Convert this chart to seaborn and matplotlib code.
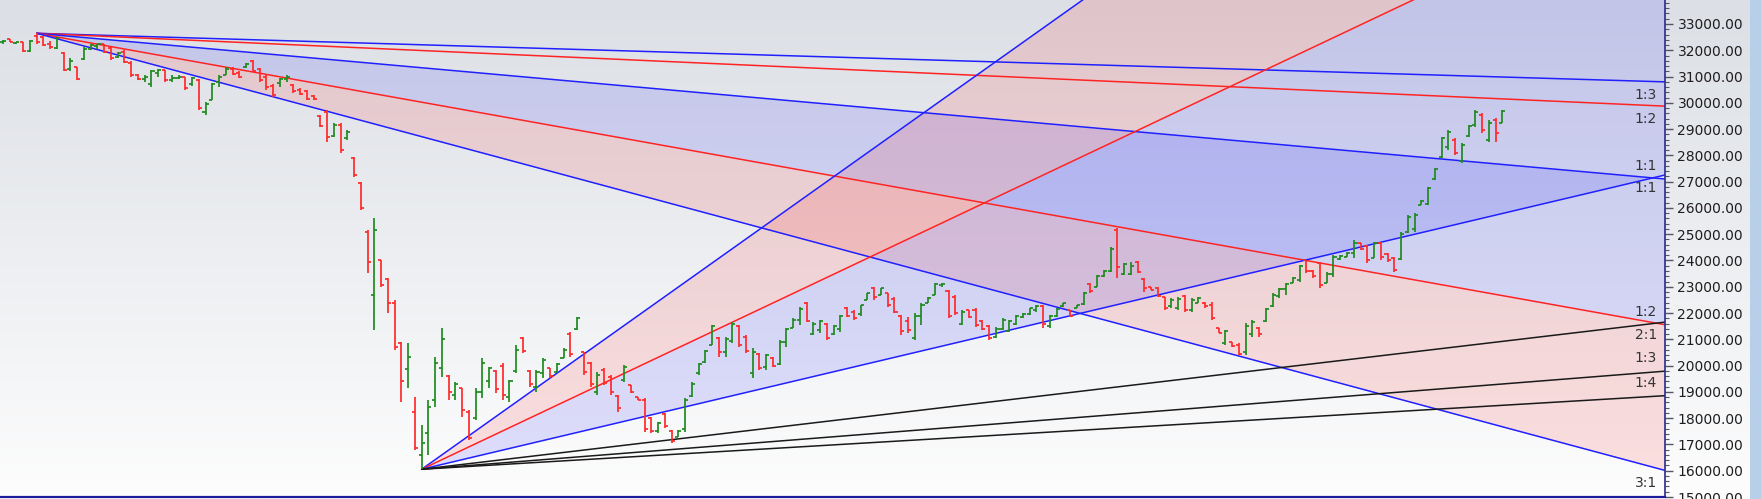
import numpy as np
import pandas as pd
import seaborn as sns
import matplotlib.pyplot as plt
from matplotlib.colors import LinearSegmentedColormap
from matplotlib.patches import Rectangle
from matplotlib.ticker import MultipleLocator, FormatStrFormatter

sns.set_theme(style='white')
plt.rcParams['font.family'] = ['DejaVu Sans']

# ------------------------------
# Daily OHLC bars
# ------------------------------
opens = [32300, 32420, 32280, 32300, 31980, 32560, 32500, 32250, 32100, 31900,
         31300, 31350, 31650, 32050, 32150, 32230, 32100, 31750, 31950, 31500,
         31060, 30900, 30700, 31150, 31250, 30850, 30950, 30980, 30700, 30850,
         29650, 30100, 30800, 31050, 31300, 31150, 31350, 31600, 31300, 31000,
         30650, 30750, 30900, 30680, 30500, 30450, 30250, 29500, 29650, 28750,
         29150, 28650, 27900, 26950, 25100, 22690, 24000, 23300, 22400, 20850,
         19870, 18240, 16600, 17440, 18700, 19900, 19600, 18900, 19150, 18250,
         18000, 19000, 19400, 19800, 20000, 18800, 19800, 21050, 19800, 19200,
         19700, 19900, 19750, 20300, 21200, 21400, 20500, 20100, 19000, 19850,
         19550, 18850, 19450, 19250, 18800, 18700, 18000, 17500, 18150, 17500,
         17300, 17600, 18850, 19700, 20150, 20800, 21050, 20500, 20950, 21500,
         21100, 19700, 20450, 19950, 20300, 20050, 20900, 21450, 21750, 22400,
         21200, 21350, 21600, 21200, 21400, 22200, 22050, 21950, 22500, 22950,
         22700, 22750, 22550, 21900, 21700, 21050, 21900, 22400, 22700, 23050,
         22850, 22600, 21600, 22100, 22100, 21700, 21500, 21100, 21400, 21300,
         21600, 21850, 21950, 22100, 22250, 21500, 21900, 22250, 22100, 22200,
         22350, 23100, 23000, 23400, 23600, 25150, 23500, 23500, 23950, 23300,
         22980, 22950, 22600, 22250, 22200, 22650, 22100, 22400, 22400, 22300,
         21420, 20850, 20900, 20800, 20500, 21200, 21450, 21700, 22250, 22650,
         22900, 23150, 23250, 24000, 23600, 23900, 23150, 23500, 24050, 24150,
         24300, 24650, 24550, 24100, 24650, 24250, 24100, 24050, 25100, 25200,
         26120, 26150, 27100, 27950, 28300, 28600, 27800, 28750, 29150, 29550,
         28600, 29350, 29250]
highs = [32380, 32440, 32330, 32310, 32400, 32646, 32560, 32350, 32500, 31950,
         31700, 31380, 32120, 32250, 32250, 32250, 32120, 31950, 32000, 31600,
         31100, 31050, 31250, 31300, 31250, 31050, 31050, 31000, 31000, 30900,
         30030, 30750, 31060, 31360, 31350, 31200, 31520, 31630, 31330, 31060,
         30700, 30950, 31050, 30700, 30550, 30490, 30300, 29540, 29730, 29230,
         29230, 28970, 27940, 26990, 25160, 25620, 24020, 23335, 22500, 20900,
         20860, 18800, 17740, 18690, 20330, 21430, 19640, 19380, 19150, 18310,
         19150, 20290, 19950, 19830, 20100, 19450, 20790, 21090, 19830, 19830,
         20290, 19910, 20100, 20670, 21280, 21850, 20520, 20140, 19760, 19910,
         19640, 18880, 20030, 19260, 18810, 18770, 18050, 17860, 18200, 17550,
         17550, 18770, 19380, 20100, 20600, 21550, 21090, 21090, 21660, 21550,
         21170, 20670, 20480, 20450, 20330, 20980, 21430, 21810, 22230, 22420,
         21660, 21740, 21620, 21550, 21930, 22230, 22120, 22310, 22770, 23000,
         22960, 22770, 22610, 21930, 21850, 22000, 22390, 22610, 23150, 23150,
         22880, 22690, 22120, 22120, 22200, 21740, 21550, 21470, 21810, 21740,
         21930, 22000, 22200, 22310, 22310, 21930, 22200, 22390, 22120, 22310,
         22800, 23150, 23450, 23640, 24520, 25240, 23900, 23940, 23980, 23335,
         22990, 22990, 22610, 22570, 22610, 22690, 22570, 22610, 22420, 22420,
         21430, 21360, 20900, 20860, 21620, 21740, 21470, 22200, 22770, 22960,
         23150, 23370, 23830, 24020, 23640, 23940, 23560, 24210, 24210, 24330,
         24780, 24670, 24590, 24710, 24710, 24290, 24130, 25090, 25730, 25810,
         26300, 26800, 27520, 28700, 28970, 28660, 28470, 29160, 29730, 29610,
         29350, 29420, 29730]
lows = [32250, 32300, 32240, 31930, 31950, 32250, 32150, 32050, 32050, 31200,
        31200, 30870, 31630, 32000, 32050, 31900, 31630, 31700, 31500, 30980,
        30870, 30800, 30600, 31000, 30800, 30780, 30900, 30500, 30650, 29730,
        29540, 30100, 30600, 31050, 31050, 30950, 31330, 31170, 30790, 30500,
        30220, 30600, 30800, 30380, 30300, 30110, 30100, 29080, 28510, 28700,
        28090, 28590, 27180, 25920, 23530, 21360, 23000, 22000, 20600, 18620,
        19150, 16790, 16056, 16600, 18430, 19570, 18690, 18690, 18050, 17170,
        17930, 18770, 19150, 18960, 18690, 18620, 19720, 20480, 19190, 19000,
        19530, 19530, 19720, 20290, 20330, 21360, 19640, 19190, 18880, 19260,
        18880, 18240, 19380, 18960, 18690, 17480, 17440, 17440, 17630, 17060,
        17290, 17480, 18810, 19650, 20100, 20790, 20330, 20330, 20860, 20710,
        20480, 19530, 19830, 19850, 19950, 20030, 20710, 21430, 21550, 21660,
        21170, 21240, 20980, 21170, 21280, 21850, 21740, 21900, 22500, 22500,
        22690, 22230, 22000, 21170, 21240, 20980, 21550, 22380, 22690, 23000,
        21810, 21930, 21550, 21810, 21470, 21360, 20980, 21050, 21360, 21280,
        21550, 21810, 21930, 22040, 21430, 21430, 21850, 22230, 21850, 22200,
        22310, 22770, 22990, 23370, 23570, 23335, 23450, 23450, 23520, 22800,
        22880, 22610, 22120, 22200, 22120, 22040, 22040, 22380, 22200, 21740,
        21240, 20790, 20710, 20400, 20400, 21090, 21090, 21660, 22230, 22570,
        22690, 23150, 23190, 23520, 23330, 22950, 23150, 23370, 24020, 24130,
        24100, 24400, 23900, 24100, 24020, 23940, 23560, 24020, 25050, 25090,
        26110, 26110, 27060, 27900, 28210, 28020, 27710, 28700, 29080, 28850,
        28510, 28510, 29230]
closes = [32340, 32320, 32300, 31960, 32340, 32300, 32200, 32120, 32450, 31250,
          31600, 30900, 32050, 32200, 32230, 31950, 31700, 31900, 31550, 31050,
          30900, 31000, 31200, 31250, 30850, 30950, 31000, 30550, 30950, 29800,
          29950, 30700, 31000, 31300, 31100, 31000, 31480, 31200, 30850, 30600,
          30300, 30900, 31000, 30450, 30350, 30150, 30150, 29100, 28700, 29150,
          28200, 28900, 27250, 26000, 23950, 25160, 23070, 22380, 20700, 19400,
          20330, 16870, 17060, 18430, 20100, 21000, 19000, 19300, 18300, 17250,
          19000, 20100, 19900, 19100, 18900, 19400, 20600, 20550, 19300, 19750,
          20200, 19600, 20050, 20600, 20450, 21800, 19750, 19300, 19650, 19350,
          19000, 18400, 19950, 19000, 18700, 17600, 17500, 17800, 17700, 17150,
          17500, 18700, 19300, 20050, 20550, 21500, 20500, 21000, 21600, 20800,
          20550, 20500, 19900, 20400, 20000, 20900, 21400, 21750, 22150, 21700,
          21600, 21700, 21050, 21500, 21900, 21900, 21800, 22300, 22750, 22600,
          22950, 22300, 22050, 21300, 21350, 21900, 22300, 22580, 23100, 23120,
          21900, 22000, 22050, 21850, 21550, 21400, 21050, 21400, 21750, 21700,
          21900, 21980, 22180, 22280, 21600, 21900, 22150, 22380, 21900, 22300,
          22750, 22850, 23400, 23600, 24450, 23750, 23850, 23800, 23550, 22950,
          22890, 22650, 22200, 22500, 22550, 22100, 22500, 22580, 22250, 21800,
          21250, 21300, 20750, 20450, 21500, 21650, 21200, 22150, 22700, 22900,
          23100, 23350, 23800, 23600, 23400, 23050, 23500, 24150, 24180, 24300,
          24650, 24450, 24000, 24650, 24150, 24000, 23650, 25000, 25650, 25750,
          26280, 26750, 27500, 28650, 28900, 28100, 28400, 29100, 29650, 28950,
          29250, 28850, 29700]

# ------------------------------
# Gann fans: pivot bar, pivot price, price per bar of the 1:1 line
# ------------------------------
fan1_origin = (5, 32646)
fan1_unit = -23.0
fan1_ratios = [1 / 3, 1 / 2, 1, 2, 3]
fan1_colors = ['#2020ff', '#ff2424', '#2020ff', '#ff2424', '#2020ff']
fan1_labels = ['1:3', '1:2', '1:1', '1:2', '3:1']
fan1_label_side = [-1, -1, 1, 1, -1]

fan2_origin = (62, 16056)
fan2_unit = 60.83
fan2_ratios = [3, 2, 1, 1 / 2, 1 / 3, 1 / 4]
fan2_colors = ['#2020ff', '#ff2424', '#2020ff', '#1a1a1a', '#1a1a1a', '#1a1a1a']
fan2_labels = ['', '', '1:1', '2:1', '1:3', '1:4']
fan2_label_side = [0, 0, -1, -1, 1, 1]

# (index of line a, index of line b, fill colour)
fan1_fills = [(2, 3, '#0000ff'), (3, 4, '#ff0000')]
fan2_fills = [(0, 1, '#ff0000'), (1, 2, '#0000ff')]

# ------------------------------
# Figure
# ------------------------------
W, H = 1761, 499
fig = plt.figure(figsize=(W / 100, H / 100), dpi=100)

bg = fig.add_axes([0, 0, 1, 1], zorder=0)
bg.axis('off')
grad = np.linspace(0, 1, 256).reshape(-1, 1)
bg_cmap = LinearSegmentedColormap.from_list('bg', ['#dcdfe5', '#eceef1', '#fdfdfd'])
bg.imshow(grad, aspect='auto', cmap=bg_cmap, extent=[0, 1, 0, 1])
fig.patches.append(Rectangle((1750 / W, 0), 11 / W, 1, transform=fig.transFigure,
                             facecolor='#b7cfe8', edgecolor='none', zorder=1))

ax = fig.add_axes([0, 2 / H, 1665 / W, 497 / H], zorder=2)
ax.set_facecolor('none')

x_max = 246.08
ax.set_xlim(-0.43, x_max)
ax.set_ylim(15000, 33913)


def fan_end(origin, unit, ratio):
    return origin[1] + unit * ratio * (x_max - origin[0])


rows = []
for name, origin, unit, ratios in [('f1', fan1_origin, fan1_unit, fan1_ratios),
                                   ('f2', fan2_origin, fan2_unit, fan2_ratios)]:
    for k, r in enumerate(ratios):
        rows.append({'line': f'{name}_{k}', 'bar': origin[0], 'price': origin[1]})
        rows.append({'line': f'{name}_{k}', 'bar': x_max, 'price': fan_end(origin, unit, r)})
fan_df = pd.DataFrame(rows)
palette = {f'f1_{k}': c for k, c in enumerate(fan1_colors)}
palette.update({f'f2_{k}': c for k, c in enumerate(fan2_colors)})

# fills between fan lines
for origin, unit, ratios, fills in [(fan1_origin, fan1_unit, fan1_ratios, fan1_fills),
                                    (fan2_origin, fan2_unit, fan2_ratios, fan2_fills)]:
    xs = [origin[0], x_max]
    for a, b, col in fills:
        ya = [origin[1], fan_end(origin, unit, ratios[a])]
        yb = [origin[1], fan_end(origin, unit, ratios[b])]
        ax.fill_between(xs, ya, yb, color=col, alpha=0.115, linewidth=0, zorder=1)

sns.lineplot(data=fan_df, x='bar', y='price', hue='line', palette=palette,
             estimator=None, legend=False, linewidth=1.1, ax=ax, zorder=2)

# fan labels at the right edge
for origin, unit, ratios, labels, sides in [
        (fan1_origin, fan1_unit, fan1_ratios, fan1_labels, fan1_label_side),
        (fan2_origin, fan2_unit, fan2_ratios, fan2_labels, fan2_label_side)]:
    for r, lab, side in zip(ratios, labels, sides):
        if not lab:
            continue
        ax.annotate(lab, xy=(x_max, fan_end(origin, unit, r)), xytext=(-8, 13 * side),
                    textcoords='offset pixels', ha='right', va='center',
                    fontsize=10, color='#333333', zorder=5)

# OHLC bars
bars = np.arange(len(closes))
o = np.array(opens)
c = np.array(closes)
bar_colors = np.where(c >= o, '#1f8a1f', '#ff2a2a')
ax.vlines(bars, lows, highs, colors=bar_colors, linewidth=1.25, zorder=3)
ax.hlines(opens, bars - 0.45, bars, colors=bar_colors, linewidth=1.25, zorder=3)
ax.hlines(closes, bars, bars + 0.45, colors=bar_colors, linewidth=1.25, zorder=3)

# right price axis
ax.yaxis.tick_right()
ax.yaxis.set_major_locator(MultipleLocator(1000))
ax.yaxis.set_minor_locator(MultipleLocator(200))
ax.yaxis.set_major_formatter(FormatStrFormatter('%.2f'))
ax.tick_params(axis='y', which='major', right=True, length=6, width=1, color='#555566',
               pad=3, labelsize=10, labelcolor='#1e1e1e')
ax.tick_params(axis='y', which='minor', right=True, length=3, width=0.8, color='#555566')
ax.tick_params(axis='x', bottom=False, labelbottom=False)
ax.set_xlabel('')
ax.set_ylabel('')
for side in ['top', 'left']:
    ax.spines[side].set_visible(False)
ax.spines['right'].set_color('#2a2a8c')
ax.spines['right'].set_linewidth(1.2)
ax.spines['bottom'].set_color('#1c1c9c')
ax.spines['bottom'].set_linewidth(1.6)

fig.savefig('out.png', dpi=100)
